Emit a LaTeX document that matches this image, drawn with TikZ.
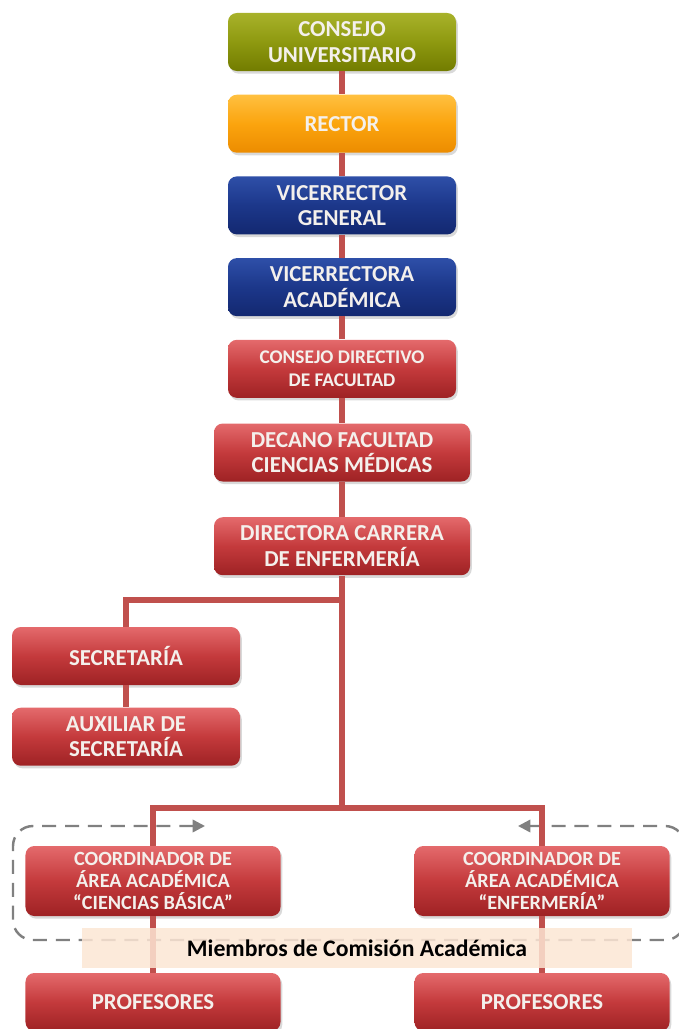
\documentclass[tikz,border=0pt]{standalone}
\usepackage{fontspec}
\setmainfont{Carlito}
\usepackage{tikz}
\usetikzlibrary{positioning, shadows, arrows.meta}
\definecolor{lineRed}{HTML}{C0504D}
\definecolor{redTop}{HTML}{E46A6C}
\definecolor{redMid}{HTML}{C43A3C}
\definecolor{redBot}{HTML}{9E2224}
\definecolor{oliveTop}{HTML}{A8B22A}
\definecolor{oliveMid}{HTML}{8E9910}
\definecolor{oliveBot}{HTML}{727C00}
\definecolor{orangeTop}{HTML}{FFC040}
\definecolor{orangeMid}{HTML}{FBA40E}
\definecolor{orangeBot}{HTML}{EC8C00}
\definecolor{blueTop}{HTML}{2E4FA8}
\definecolor{blueMid}{HTML}{1C378A}
\definecolor{blueBot}{HTML}{132870}
\definecolor{bandPeach}{HTML}{FCE6D4}
\definecolor{frameGray}{HTML}{808080}
\definecolor{boxText}{HTML}{F4F0EC}
\tikzset{
  box/.style={rectangle, rounded corners=5pt,
    minimum width=4.56cm, minimum height=1.16cm,
    align=center, text=boxText,
    font=\bfseries\fontsize{13}{14.5}\selectfont,
    drop shadow={opacity=0.3, shadow xshift=1pt, shadow yshift=-1.5pt}},
  redbox/.style={box, top color=redTop, bottom color=redBot, middle color=redMid},
  olivebox/.style={box, top color=oliveTop, bottom color=oliveBot, middle color=oliveMid},
  orangebox/.style={box, top color=orangeTop, bottom color=orangeBot, middle color=orangeMid},
  bluebox/.style={box, top color=blueTop, bottom color=blueBot, middle color=blueMid},
  conn/.style={line width=3.4pt, draw=lineRed},
  frame/.style={line width=1.4pt, draw=frameGray, dash pattern=on 8pt off 5pt,
    rounded corners=0.4cm}
}

\begin{document}
\begin{tikzpicture}

    \useasboundingbox (0,0) rectangle (13.56,-20.58);

    % Marco de la comision
    \coordinate (fl) at (4.10,-16.52);
    \coordinate (fr) at (10.36,-16.52);
    \draw [frame, {Triangle[length=7pt,width=7pt]}-{Triangle[length=7pt,width=7pt]}]
        (fl) -- (0.26,-16.52) -- (0.26,-18.80) -- (13.70,-18.80) -- (13.70,-16.52) -- (fr);

    % Nodos
    \node (cu) [olivebox] at (6.84,-0.84) {CONSEJO\\UNIVERSITARIO};
    \node (rector) [orangebox, below=0.46cm of cu] {RECTOR};
    \node (vrg) [bluebox, below=0.46cm of rector] {VICERRECTOR\\GENERAL};
    \node (vra) [bluebox, below=0.46cm of vrg] {VICERRECTORA\\ACADÉMICA};
    \node (cdf) [redbox, below=0.46cm of vra, font=\bfseries\fontsize{11}{13.5}\selectfont] {CONSEJO DIRECTIVO\\DE FACULTAD};
    \node (dec) [redbox, below=0.5cm of cdf, minimum width=5.12cm] {DECANO FACULTAD\\CIENCIAS MÉDICAS};
    \node (dir) [redbox, below=0.7cm of dec, minimum width=5.12cm] {DIRECTORA CARRERA\\DE ENFERMERÍA};
    \node (sec) [redbox] at (2.52,-13.12) {SECRETARÍA};
    \node (aux) [redbox, below=0.44cm of sec] {AUXILIAR DE\\SECRETARÍA};
    \node (coA) [redbox, minimum width=5.1cm, minimum height=1.4cm, font=\bfseries\fontsize{11.5}{12.5}\selectfont]
        at (3.06,-17.62) {COORDINADOR DE\\ÁREA ACADÉMICA\\“CIENCIAS BÁSICA”};
    \node (coB) [redbox, minimum width=5.1cm, minimum height=1.4cm, font=\bfseries\fontsize{11.5}{12.5}\selectfont]
        at (10.84,-17.62) {COORDINADOR DE\\ÁREA ACADÉMICA\\“ENFERMERÍA”};
    \node (profA) [redbox, minimum width=5.1cm] at (3.06,-20.04) {PROFESORES};
    \node (profB) [redbox, minimum width=5.1cm] at (10.84,-20.04) {PROFESORES};

    \coordinate (br1) at (6.84,-12.00);
    \coordinate (br2) at (6.84,-16.16);

    % Conexiones
    \draw [conn] (cu) -- (rector);
    \draw [conn] (rector) -- (vrg);
    \draw [conn] (vrg) -- (vra);
    \draw [conn] (vra) -- (cdf);
    \draw [conn] (cdf) -- (dec);
    \draw [conn] (dec) -- (dir);
    \draw [conn] (dir.south) -- (br1) -| (sec.north);
    \draw [conn] (sec) -- (aux);
    \draw [conn] (br1) -- (br2);
    \draw [conn] (br2) -| (coA.north);
    \draw [conn] (br2) -| (coB.north);
    \draw [conn] (coA) -- (profA);
    \draw [conn] (coB) -- (profB);

    % Etiqueta
    \node (band) [fill=bandPeach, fill opacity=0.85, text opacity=1, text=black,
        minimum width=11cm, minimum height=0.8cm, font=\bfseries\fontsize{13.5}{16}\selectfont]
        at (7.14,-18.96) {Miembros de Comisión Académica};

\end{tikzpicture}
\end{document}
